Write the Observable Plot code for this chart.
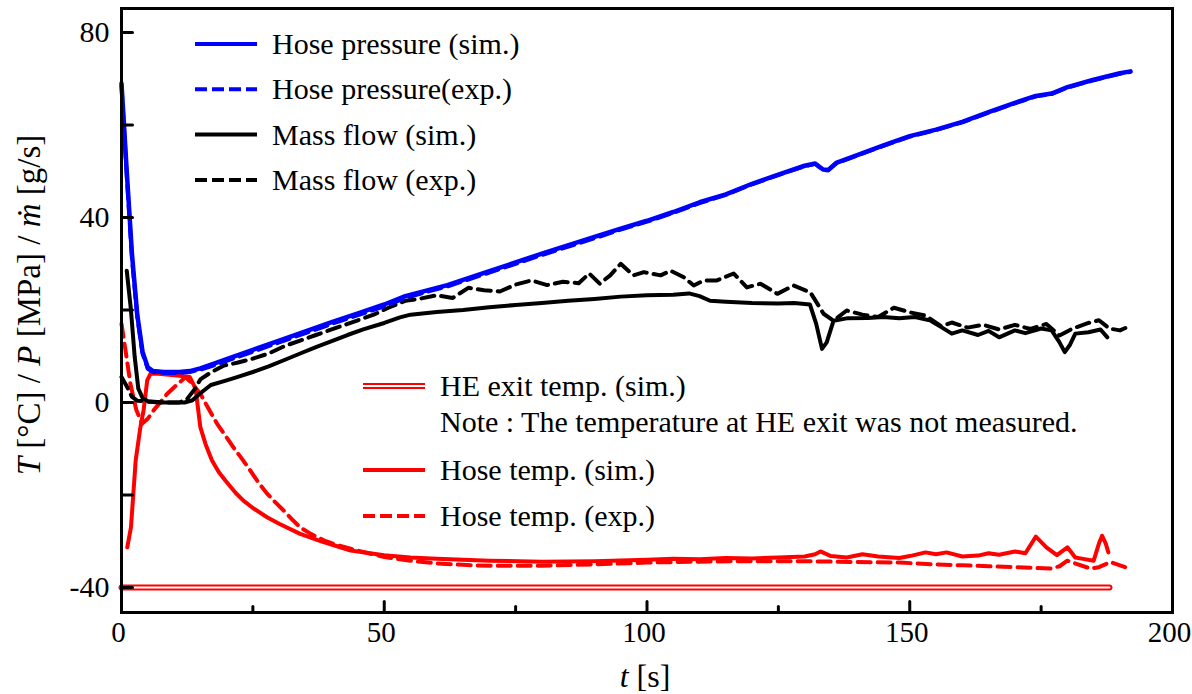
<!DOCTYPE html>
<html><head><meta charset="utf-8">
<script src="https://cdn.jsdelivr.net/npm/d3@7"></script>
<script src="https://cdn.jsdelivr.net/npm/@observablehq/plot@0.6"></script>
<style>
html,body{margin:0;padding:0;background:#fff;}
#wrap{position:relative;width:1192px;height:694px;}
#wrap svg{position:absolute;left:0;top:0;}
</style></head>
<body><div id="wrap"></div>
<script>
// ---- data (t [s], value) ----
const pressureSim = [[0,69],[1,50],[2,32],[3,19],[4,11],[5,7.6],[6,6.8],[8,6.6],[11,6.6],[13,6.8],[15,7.4],[18,8.6],[20,9.4],[25,11.4],[30,13.4],[35,15.4],[40,17.4],[45,19.3],[50,21.2],[54,23],[58,24.2],[62,25.4],[70,28.4],[80,32.2],[90,35.8],[95,37.6],[100,39.3],[105,41.2],[110,43.3],[115,45],[120,47.3],[125,49.3],[130,51.2],[132,51.7],[133.5,50.4],[134.5,50.3],[136,51.8],[140,53.5],[145,55.6],[150,57.6],[155,59],[160,60.7],[165,62.8],[170,64.8],[174,66.3],[177,66.8],[180,68.2],[185,69.8],[190,71.2],[192,71.6]];
const pressureExp = [[0,68.5],[1,49],[2,31],[3,18.5],[4,10.6],[5,7.3],[6,6.6],[8,6.4],[11,6.4],[13,6.6],[15,7.1],[18,8.2],[20,9],[25,11],[30,13],[35,15],[40,17],[45,18.9],[50,20.8],[54,22.6],[58,23.9],[62,25.1],[70,28.1],[80,31.9],[90,35.5],[95,37.4],[100,39.1],[105,41],[110,43.1],[115,44.9],[120,47.2],[125,49.2],[130,51.1],[132,51.6],[133.5,50.3],[134.5,50.2],[136,51.7],[140,53.4],[145,55.5],[150,57.5],[155,58.9],[160,60.6],[165,62.7],[170,64.7],[174,66.2],[177,66.7],[180,68.1],[185,69.7],[190,71.1],[192,71.5]];
const massFlowSim = [[1,28.5],[1.8,20],[2.5,10],[3.2,3],[4,1],[5,0.3],[8,0],[12,0],[13.5,0.5],[15,2],[17,3.8],[20,4.8],[22,5.5],[25,6.6],[28,7.8],[31,9.2],[34,10.6],[37,12],[40,13.3],[43,14.6],[46,15.8],[50,17.2],[53,18.4],[55,19],[60,19.6],[65,20],[70,20.6],[75,21.1],[80,21.5],[85,22],[90,22.4],[95,22.9],[100,23.2],[105,23.3],[108,23.6],[110,23],[112,22],[115,21.8],[120,21.5],[125,21.4],[128,21.5],[131,21.2],[132.2,17],[133.3,11.6],[134.2,13],[135.5,17.7],[138,18.2],[142,18.3],[145,18.5],[148,18.2],[151,18.5],[154,17.7],[156,16.3],[158,14.9],[160,15.6],[163,14.6],[165,15.5],[167,14.1],[170,15.6],[172,15],[175,16],[177,15.6],[178.5,13],[179.5,10.9],[180.5,12.5],[181.5,14.9],[184,15.2],[186.3,15.8],[187.6,14.1]];
const massFlowExp = [[0,5.5],[1,3.5],[2,1.2],[3,0.4],[5,0.2],[8,0],[11,0],[12.5,0.8],[14,3],[15,5],[17,6.5],[19.5,8],[22,8.6],[25,9.5],[28,10.6],[31,12.2],[34,13.4],[37,14.6],[40,15.8],[44,17.4],[48,19],[51,20.6],[54,22],[57,22.5],[60,23.2],[63,22.6],[66,24.8],[69,24.3],[72,24],[75,25.5],[78,26.4],[81,25.4],[84,26.1],[87,25.8],[89,27.9],[91,25.7],[93,27.5],[95,30],[97.4,27.5],[99.4,28.2],[102.6,27.5],[104.5,28.5],[107,27.1],[108.9,25.3],[110.8,26.4],[113.3,26.4],[116.5,27.9],[119,24.9],[121.6,25.7],[124.8,23.5],[127.9,25.3],[131.1,23.8],[133.6,19.2],[135.5,17.7],[138,19.9],[141,19],[144,18.5],[147,20.5],[150,19.5],[153,18.8],[156,16.5],[158,17.3],[161,16.2],[164,16.8],[167,15.8],[170,16.8],[173,15.9],[176,17],[178.5,14.5],[181,16],[184,17.2],[186,17.8],[188,16],[190,15.6],[192,16.6]];
const hoseTempSim = [[1.1,-31.3],[1.8,-27],[2.7,-12.5],[3.6,-5.3],[4.2,-1.7],[4.9,4.8],[5.5,6.2],[7,6.2],[9,6],[11,5.8],[13,5.5],[14.1,3],[15,-5.3],[16,-9],[17.2,-12.5],[18.5,-15],[19.8,-16.9],[21.7,-19.5],[23.2,-21.2],[25,-22.8],[27.7,-24.8],[30,-26.2],[34,-28.4],[38,-30],[43.6,-32],[50,-33],[55,-33.5],[60,-33.8],[70,-34.2],[80,-34.4],[90,-34.3],[100,-34],[105,-33.8],[110,-33.9],[115,-33.6],[120,-33.7],[125,-33.5],[130,-33.3],[132,-32.8],[133,-32.2],[135,-33.2],[138,-33.5],[141,-32.8],[144,-33.3],[148,-33.6],[150,-33.2],[153,-32.4],[155,-32.8],[157,-32.4],[160,-33.3],[163,-33.1],[165,-32.6],[167,-32.9],[170,-32.2],[172,-32.6],[174,-29],[176,-31.3],[178,-33],[180,-31.3],[181.5,-33.5],[183,-33.8],[185,-34.2],[186,-30.5],[186.6,-28.8],[187.3,-30.5],[187.8,-32.4]];
const hoseTempExp = [[0,17],[0.8,11],[1.7,4],[2.8,-1.5],[3.9,-4.6],[5,-3.5],[6.1,-1.7],[7.5,0.2],[8.7,1.9],[10.5,3.8],[12.2,5.5],[13.5,4],[15,1.9],[16.5,-1.2],[18.2,-4.6],[19.8,-7.2],[21.3,-9.7],[23,-12.3],[24.5,-14.7],[26,-17.2],[27.7,-19.7],[29.3,-21.6],[30.9,-23.4],[32.5,-25.3],[34,-27],[36,-28.4],[38.5,-29.8],[41,-30.8],[43.6,-31.6],[47,-32.6],[50,-33.4],[55,-34.2],[60,-34.8],[65,-35.1],[70,-35.3],[80,-35.3],[90,-35],[100,-34.6],[110,-34.4],[120,-34.3],[130,-34.3],[140,-34.5],[148,-34.6],[155,-35],[160,-35.2],[165,-35.4],[170,-35.6],[176.8,-35.9],[178.5,-35.4],[180,-34.2],[182,-35],[184.4,-35.9],[186,-35.6],[188.2,-34.5],[190,-35.2],[192,-36]];
const heExitSim = [[0,-40],[188,-40]];

const xMajorTicks = [0,50,100,150,200];
const xMinorTicks = [25,75,125,175];
const yTicks = [-40,-20,0,20,40,60,80];
const yTickLabels = [-40,0,40,80];
const xDomain = [0,200];
const yDomain = [-45.4,85.2];

const legendTop = [
  {label:"Hose pressure (sim.)", color:"#0000ff", dash:null},
  {label:"Hose pressure(exp.)", color:"#0000ff", dash:"12,5"},
  {label:"Mass flow (sim.)", color:"#000000", dash:null},
  {label:"Mass flow (exp.)", color:"#000000", dash:"12,5"}
];
const legendBottom = [
  {label:"HE exit temp. (sim.)", color:"#ff0000", double:true},
  {label:"Note : The temperature at HE exit was not measured.", note:true},
  {label:"Hose temp. (sim.)", color:"#ff0000", dash:null},
  {label:"Hose temp. (exp.)", color:"#ff0000", dash:"12,5"}
];

const tickShape = {draw(context, l) { context.moveTo(0, 0); context.lineTo(0, -l); }};
const yMin = yDomain[0];
const FONT = "'Liberation Serif', 'DejaVu Serif', serif";
const DASH = "13,7";

const chart = Plot.plot({
  width: 1192, height: 694,
  marginLeft: 121, marginRight: 20, marginTop: 8, marginBottom: 82,
  x: {domain: xDomain},
  y: {domain: yDomain},
  style: {fontFamily: FONT, fontSize: "30px", background: "white", color: "black"},
  marks: [
    // HE exit double line
    Plot.line(heExitSim, {x: d => d[0], y: d => d[1], stroke: "#ff0000", strokeWidth: 6}),
    Plot.line(heExitSim, {x: d => d[0], y: d => d[1], stroke: "white", strokeWidth: 2}),
    Plot.line(hoseTempExp, {x: d => d[0], y: d => d[1], stroke: "#ff0000", strokeWidth: 4, strokeDasharray: DASH}),
    Plot.line(hoseTempSim, {x: d => d[0], y: d => d[1], stroke: "#ff0000", strokeWidth: 4}),
    Plot.line(massFlowSim, {x: d => d[0], y: d => d[1], stroke: "black", strokeWidth: 4}),
    Plot.line(massFlowExp, {x: d => d[0], y: d => d[1], stroke: "black", strokeWidth: 4, strokeDasharray: DASH}),
    Plot.line(pressureSim, {x: d => d[0], y: d => d[1], stroke: "#0000ff", strokeWidth: 4.5}),
    Plot.line(pressureExp, {x: d => d[0], y: d => d[1], stroke: "#0000ff", strokeWidth: 4, strokeDasharray: DASH}),
    // inward ticks
    Plot.vector(yTicks, {x: xDomain[0], y: d => d, length: 11, rotate: 90, anchor: "start", shape: tickShape, stroke: "black", strokeWidth: 3}),
    Plot.vector(xMajorTicks, {x: d => d, y: yMin, length: 11, rotate: 0, anchor: "start", shape: tickShape, stroke: "black", strokeWidth: 3}),
    Plot.vector(xMinorTicks, {x: d => d, y: yMin, length: 6, rotate: 0, anchor: "start", shape: tickShape, stroke: "black", strokeWidth: 3}),
    // tick labels
    Plot.axisX({ticks: xMajorTicks, tickSize: 0, tickPadding: 9, tickFormat: d => String(d), label: null, fontSize: 29, dx: -3}),
    Plot.axisY({ticks: yTickLabels, tickSize: 0, tickPadding: 12, tickFormat: d => String(d), label: null, fontSize: 30}),
    Plot.frame({stroke: "black", strokeWidth: 3})
  ]
});
document.getElementById("wrap").appendChild(chart);

// overlay: legends and axis titles
const ov = d3.select("#wrap").append("svg").attr("width", 1192).attr("height", 694)
  .style("font-family", FONT).style("font-size", "30px");

legendTop.forEach((e, i) => {
  const y = 44 + i * 45.3;
  ov.append("line").attr("x1", 195).attr("x2", 257).attr("y1", y).attr("y2", y)
    .attr("stroke", e.color).attr("stroke-width", 4).attr("stroke-dasharray", e.dash);
  ov.append("text").attr("x", 272).attr("y", y).attr("dy", "0.33em").text(e.label);
});
const bottomY = [386, 422, 470, 516];
legendBottom.forEach((e, i) => {
  const y = bottomY[i];
  if (e.double) {
    ov.append("line").attr("x1", 363).attr("x2", 425).attr("y1", y).attr("y2", y).attr("stroke", e.color).attr("stroke-width", 6);
    ov.append("line").attr("x1", 363).attr("x2", 425).attr("y1", y).attr("y2", y).attr("stroke", "white").attr("stroke-width", 2);
  } else if (!e.note) {
    ov.append("line").attr("x1", 363).attr("x2", 425).attr("y1", y).attr("y2", y)
      .attr("stroke", e.color).attr("stroke-width", 4).attr("stroke-dasharray", e.dash);
  }
  ov.append("text").attr("x", 440).attr("y", y).attr("dy", "0.33em").text(e.label);
});

// y-axis title
const yt = ov.append("text").attr("transform", "translate(40,305) rotate(-90)").attr("text-anchor", "middle").style("font-size", "33px");
[["T", true], [" [°C] / ", false], ["P", true], [" [MPa] / ", false], ["ṁ", true], [" [g/s]", false]]
  .forEach(([s, it]) => yt.append("tspan").attr("font-style", it ? "italic" : null).text(s));
// x-axis title
const xt = ov.append("text").attr("x", 645).attr("y", 687).attr("text-anchor", "middle").style("font-size", "32px");
[["t", true], [" [s]", false]].forEach(([s, it]) => xt.append("tspan").attr("font-style", it ? "italic" : null).text(s));
</script>
</body></html>
